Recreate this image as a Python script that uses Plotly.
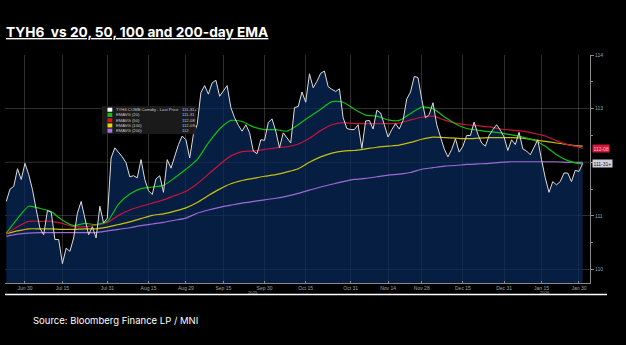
import pandas as pd
import plotly.graph_objects as go

# ---------------- data ----------------
holidays = ["2025-07-04", "2025-09-01", "2025-11-27", "2025-12-25", "2026-01-01", "2026-01-19"]
trade_days = [d.strftime("%Y-%m-%d") for d in pd.bdate_range("2025-06-23", "2026-02-02")
              if d.strftime("%Y-%m-%d") not in holidays]

price = [
    111.27, 111.50, 111.55, 111.88, 111.68, 111.98, 111.77, 111.49, 111.12, 110.77,
    110.65, 111.10, 111.07, 110.56, 110.56, 110.11, 110.40, 110.34, 110.59, 111.05,
    111.27, 110.93, 110.65, 110.80, 110.59, 111.18, 110.87, 110.96, 112.08, 112.27,
    112.19, 112.10, 111.99, 111.73, 111.75, 111.71, 112.05, 111.68, 111.47, 111.40,
    111.69, 111.75, 111.44, 112.05, 111.89, 112.11, 112.33, 112.49, 112.42, 112.08,
    112.52, 112.70, 113.30, 113.43, 113.27, 113.48, 113.53, 113.23, 113.33, 113.43,
    113.02, 112.83, 112.69, 112.58, 112.70, 112.55, 112.21, 112.16, 112.42, 112.41,
    112.74, 112.81, 112.58, 112.27, 112.55, 112.46, 112.36, 113.02, 113.04, 113.31,
    113.12, 113.65, 113.39, 113.51, 113.66, 113.70, 113.41, 113.36, 113.32, 113.37,
    112.83, 112.63, 112.61, 112.61, 112.70, 112.26, 112.77, 112.78, 112.62, 112.97,
    112.92, 112.70, 112.47, 112.61, 112.72, 112.62, 112.78, 113.18, 113.31, 113.60,
    113.58, 113.17, 112.83, 112.89, 113.11, 112.70, 112.45, 112.25, 112.10, 112.24,
    112.44, 112.19, 112.30, 112.50, 112.50, 112.75, 112.52, 112.36, 112.30, 112.50,
    112.61, 112.70, 112.60, 112.47, 112.22, 112.42, 112.33, 112.56, 112.25, 112.21,
    112.14, 112.29, 112.42, 112.05, 111.71, 111.44, 111.64, 111.58, 111.64, 111.80,
    111.80, 111.64, 111.85, 111.83, 111.98,
]

ema_dates = [
    "2025-06-23", "2025-06-26", "2025-07-01", "2025-07-07", "2025-07-10", "2025-07-15",
    "2025-07-18", "2025-07-23", "2025-07-28", "2025-07-31", "2025-08-05", "2025-08-08",
    "2025-08-13", "2025-08-18", "2025-08-21", "2025-08-26", "2025-08-29", "2025-09-04",
    "2025-09-09", "2025-09-12", "2025-09-17", "2025-09-22", "2025-09-25", "2025-09-30",
    "2025-10-03", "2025-10-08", "2025-10-13", "2025-10-16", "2025-10-21", "2025-10-24",
    "2025-10-29", "2025-11-03", "2025-11-06", "2025-11-11", "2025-11-14", "2025-11-19",
    "2025-11-24", "2025-11-28", "2025-12-03", "2025-12-08", "2025-12-11", "2025-12-16",
    "2025-12-19", "2025-12-24", "2025-12-30", "2026-01-05", "2026-01-08", "2026-01-13",
    "2026-01-16", "2026-01-22", "2026-01-27", "2026-01-29", "2026-02-02",
]
ema20 = [
    110.68, 110.95, 111.18, 111.14, 111.08, 110.92, 110.82, 110.86, 110.84, 110.90,
    111.22, 111.41, 111.51, 111.54, 111.57, 111.71, 111.87, 112.05, 112.36, 112.62,
    112.78, 112.76, 112.66, 112.61, 112.61, 112.58, 112.70, 112.85, 112.99, 113.13,
    113.12, 112.99, 112.88, 112.86, 112.79, 112.78, 112.91, 113.03, 113.00, 112.85,
    112.72, 112.63, 112.60, 112.57, 112.55, 112.51, 112.47, 112.41, 112.30, 112.14,
    112.03, 111.99, 111.97,
]
ema50 = [
    110.67, 110.80, 110.90, 110.90, 110.90, 110.86, 110.80, 110.80, 110.83, 110.88,
    111.01, 111.11, 111.18, 111.24, 111.30, 111.38, 111.46, 111.60, 111.78, 111.96,
    112.12, 112.20, 112.21, 112.24, 112.27, 112.29, 112.34, 112.45, 112.59, 112.70,
    112.74, 112.72, 112.72, 112.72, 112.72, 112.73, 112.79, 112.84, 112.86, 112.79,
    112.73, 112.70, 112.68, 112.66, 112.62, 112.60, 112.58, 112.54, 112.49, 112.40,
    112.33, 112.30, 112.26,
]
ema100 = [
    110.67, 110.72, 110.76, 110.76, 110.76, 110.75, 110.75, 110.76, 110.76, 110.79,
    110.84, 110.89, 110.95, 111.01, 111.04, 111.09, 111.15, 111.25, 111.38, 111.50,
    111.60, 111.66, 111.70, 111.74, 111.77, 111.82, 111.88, 112.00, 112.10, 112.17,
    112.21, 112.22, 112.25, 112.28, 112.30, 112.32, 112.37, 112.43, 112.47, 112.46,
    112.45, 112.44, 112.45, 112.46, 112.46, 112.46, 112.45, 112.42, 112.39, 112.36,
    112.33, 112.31, 112.30,
]
ema200 = [
    110.62, 110.66, 110.68, 110.69, 110.69, 110.69, 110.69, 110.69, 110.69, 110.72,
    110.75, 110.78, 110.82, 110.85, 110.88, 110.92, 110.96, 111.05, 111.11, 111.16,
    111.20, 111.24, 111.27, 111.30, 111.33, 111.37, 111.42, 111.48, 111.54, 111.59,
    111.64, 111.68, 111.70, 111.73, 111.76, 111.78, 111.81, 111.87, 111.90, 111.93,
    111.94, 111.96, 111.97, 111.98, 112.00, 112.01, 112.01, 112.01, 112.01, 112.01,
    112.00, 112.00, 112.00,
]

tick_dates = ["2025-06-30", "2025-07-15", "2025-07-31", "2025-08-15", "2025-08-29",
              "2025-09-15", "2025-09-30", "2025-10-15", "2025-10-31", "2025-11-14",
              "2025-11-28", "2025-12-15", "2025-12-31", "2026-01-15", "2026-01-30"]
tick_labels = ["Jun 30", "Jul 15", "Jul 31", "Aug 15", "Aug 29", "Sep 15", "Sep 30",
               "Oct 15", "Oct 31", "Nov 14", "Nov 28", "Dec 15", "Dec 31", "Jan 15", "Jan 30"]
y_ticks = [110, 111, 113, 114]
year_labels = ["2025", "2026"]
year_dates = ["2025-09-25", "2026-01-16"]

legend_names = ["TYH6 COMB Comdty - Last Price", "EMAVG (20)", "EMAVG (50)", "EMAVG (100)", "EMAVG (200)"]
legend_values = ["111-31+", "111-31", "112-08", "112-09+", "112"]

title_text = "TYH6  vs 20, 50, 100 and 200-day EMA"
source_text = "Source: Bloomberg Finance LP / MNI"

# ---------------- styles ----------------
C_PRICE = "#dcdcdc"
C20, C50, C100, C200 = "#10c010", "#c8143c", "#c8c010", "#9d6ad8"
FILL = "rgba(8,42,90,0.72)"
GRID = "rgba(120,120,120,0.38)"
TXT = "#a0a0a0"

fig = go.Figure()
fig.add_trace(go.Scatter(x=trade_days, y=price, mode="lines", line=dict(width=0),
                         fill="tozeroy", fillcolor=FILL, hoverinfo="skip"))
for vals, col in [(ema200, C200), (ema100, C100), (ema50, C50), (ema20, C20)]:
    fig.add_trace(go.Scatter(x=ema_dates, y=vals, mode="lines",
                             line=dict(color=col, width=1.2, shape="spline", smoothing=0.6)))
fig.add_trace(go.Scatter(x=trade_days, y=price, mode="lines", line=dict(color=C_PRICE, width=1)))

L, R, T, B = 5, 36, 55, 62
W, H = 626, 345
pw, ph = W - L - R, H - T - B


def px_x(p):
    return (p - L) / pw


def px_y(p):
    return (H - B - p) / ph


fig.update_layout(
    width=W, height=H, margin=dict(l=L, r=R, t=T, b=B),
    paper_bgcolor="black", plot_bgcolor="black", showlegend=False,
    font=dict(family="Liberation Sans", color=TXT, size=5),
    xaxis=dict(type="category", categoryorder="array", categoryarray=trade_days,
               range=[-0.34, 155.95], tickmode="array", tickvals=tick_dates, ticktext=tick_labels,
               showgrid=True, gridcolor=GRID, gridwidth=1, showline=True, linecolor="#8a8a8a",
               linewidth=1, ticks="inside", ticklen=2, tickcolor="#8a8a8a",
               tickfont=dict(size=5, color=TXT), zeroline=False),
    yaxis=dict(side="right", range=[109.75, 114.0], tickvals=y_ticks,
               showgrid=True, gridcolor=GRID, gridwidth=1, showline=True, linecolor="#8a8a8a",
               linewidth=1, ticks="outside", ticklen=3, tickcolor="#8a8a8a",
               tickfont=dict(size=5, color=TXT), zeroline=False,
               minor=dict(dtick=0.5, ticks="outside", ticklen=2, tickcolor="#8a8a8a", showgrid=False)),
)
# gridline at 112 (its label is hidden behind the price tag in the reference)
fig.add_hline(y=112, line=dict(color=GRID, width=1), layer="below")

ann = []
ann.append(dict(text="<b><u>" + title_text + "</u></b>", xref="paper", yref="paper",
                x=-0.002, y=px_y(32), xanchor="left", yanchor="middle", showarrow=False,
                font=dict(family="Inter", size=13.7, color="white")))
ann.append(dict(text=source_text, xref="paper", yref="paper", x=px_x(31), y=px_y(320),
                xanchor="left", yanchor="middle", showarrow=False,
                font=dict(family="Inter", size=9.5, color="white")))
for lab, d in zip(year_labels, year_dates):
    ann.append(dict(text=lab, xref="x", yref="paper", x=d, y=px_y(292), showarrow=False,
                    xanchor="center", yanchor="middle", font=dict(size=4.2, color=TXT)))

shapes = []
# yellow EMA100 tag (only a sliver visible behind the EMA50 tag)
shapes.append(dict(type="rect", xref="paper", yref="y", x0=px_x(592), x1=px_x(607),
                   y0=ema100[-1] - 0.03, y1=ema100[-1] + 0.05, fillcolor=C100, line=dict(width=0),
                   layer="above"))
tags = [(ema50[-1], legend_values[2], "#d01838", "#ffc0cc"),
        (price[-1], legend_values[0], "#cfd0dc", "#202030")]
for yv, txt, bg, fc in tags:
    ann.append(dict(text=txt, xref="paper", yref="y", x=px_x(592), y=yv, xanchor="left",
                    yanchor="middle", showarrow=False, bgcolor=bg, borderpad=0.5,
                    font=dict(size=5, color=fc)))

# legend box
shapes.append(dict(type="rect", xref="paper", yref="paper", x0=px_x(102), x1=px_x(196),
                   y0=px_y(134), y1=px_y(106), fillcolor="rgba(28,28,28,0.92)", line=dict(width=0),
                   layer="above"))
shapes.append(dict(type="line", xref="paper", yref="paper", x0=0, x1=px_x(607), y0=px_y(294.5),
                   y1=px_y(294.5), line=dict(color="white", width=1.5)))
leg_cols = ["#ffffff", C20, "#e0102a", "#e8d800", "#b070f0"]
for i, (nm, val, col) in enumerate(zip(legend_names, legend_values, leg_cols)):
    yc = 109.7 + i * 5.25
    shapes.append(dict(type="rect", xref="paper", yref="paper", x0=px_x(107.5), x1=px_x(112.3),
                       y0=px_y(yc + 2.0), y1=px_y(yc - 2.0), fillcolor=col, line=dict(width=0),
                       layer="above"))
    ann.append(dict(text=nm, xref="paper", yref="paper", x=px_x(114), y=px_y(yc), xanchor="left",
                    yanchor="middle", showarrow=False, font=dict(size=4.2, color="#c8c8c8")))
    ann.append(dict(text=val, xref="paper", yref="paper", x=px_x(180), y=px_y(yc), xanchor="left",
                    yanchor="middle", showarrow=False, font=dict(size=4.2, color="#c8c8c8")))

fig.update_layout(annotations=ann, shapes=shapes)
fig.write_html("out.html")
